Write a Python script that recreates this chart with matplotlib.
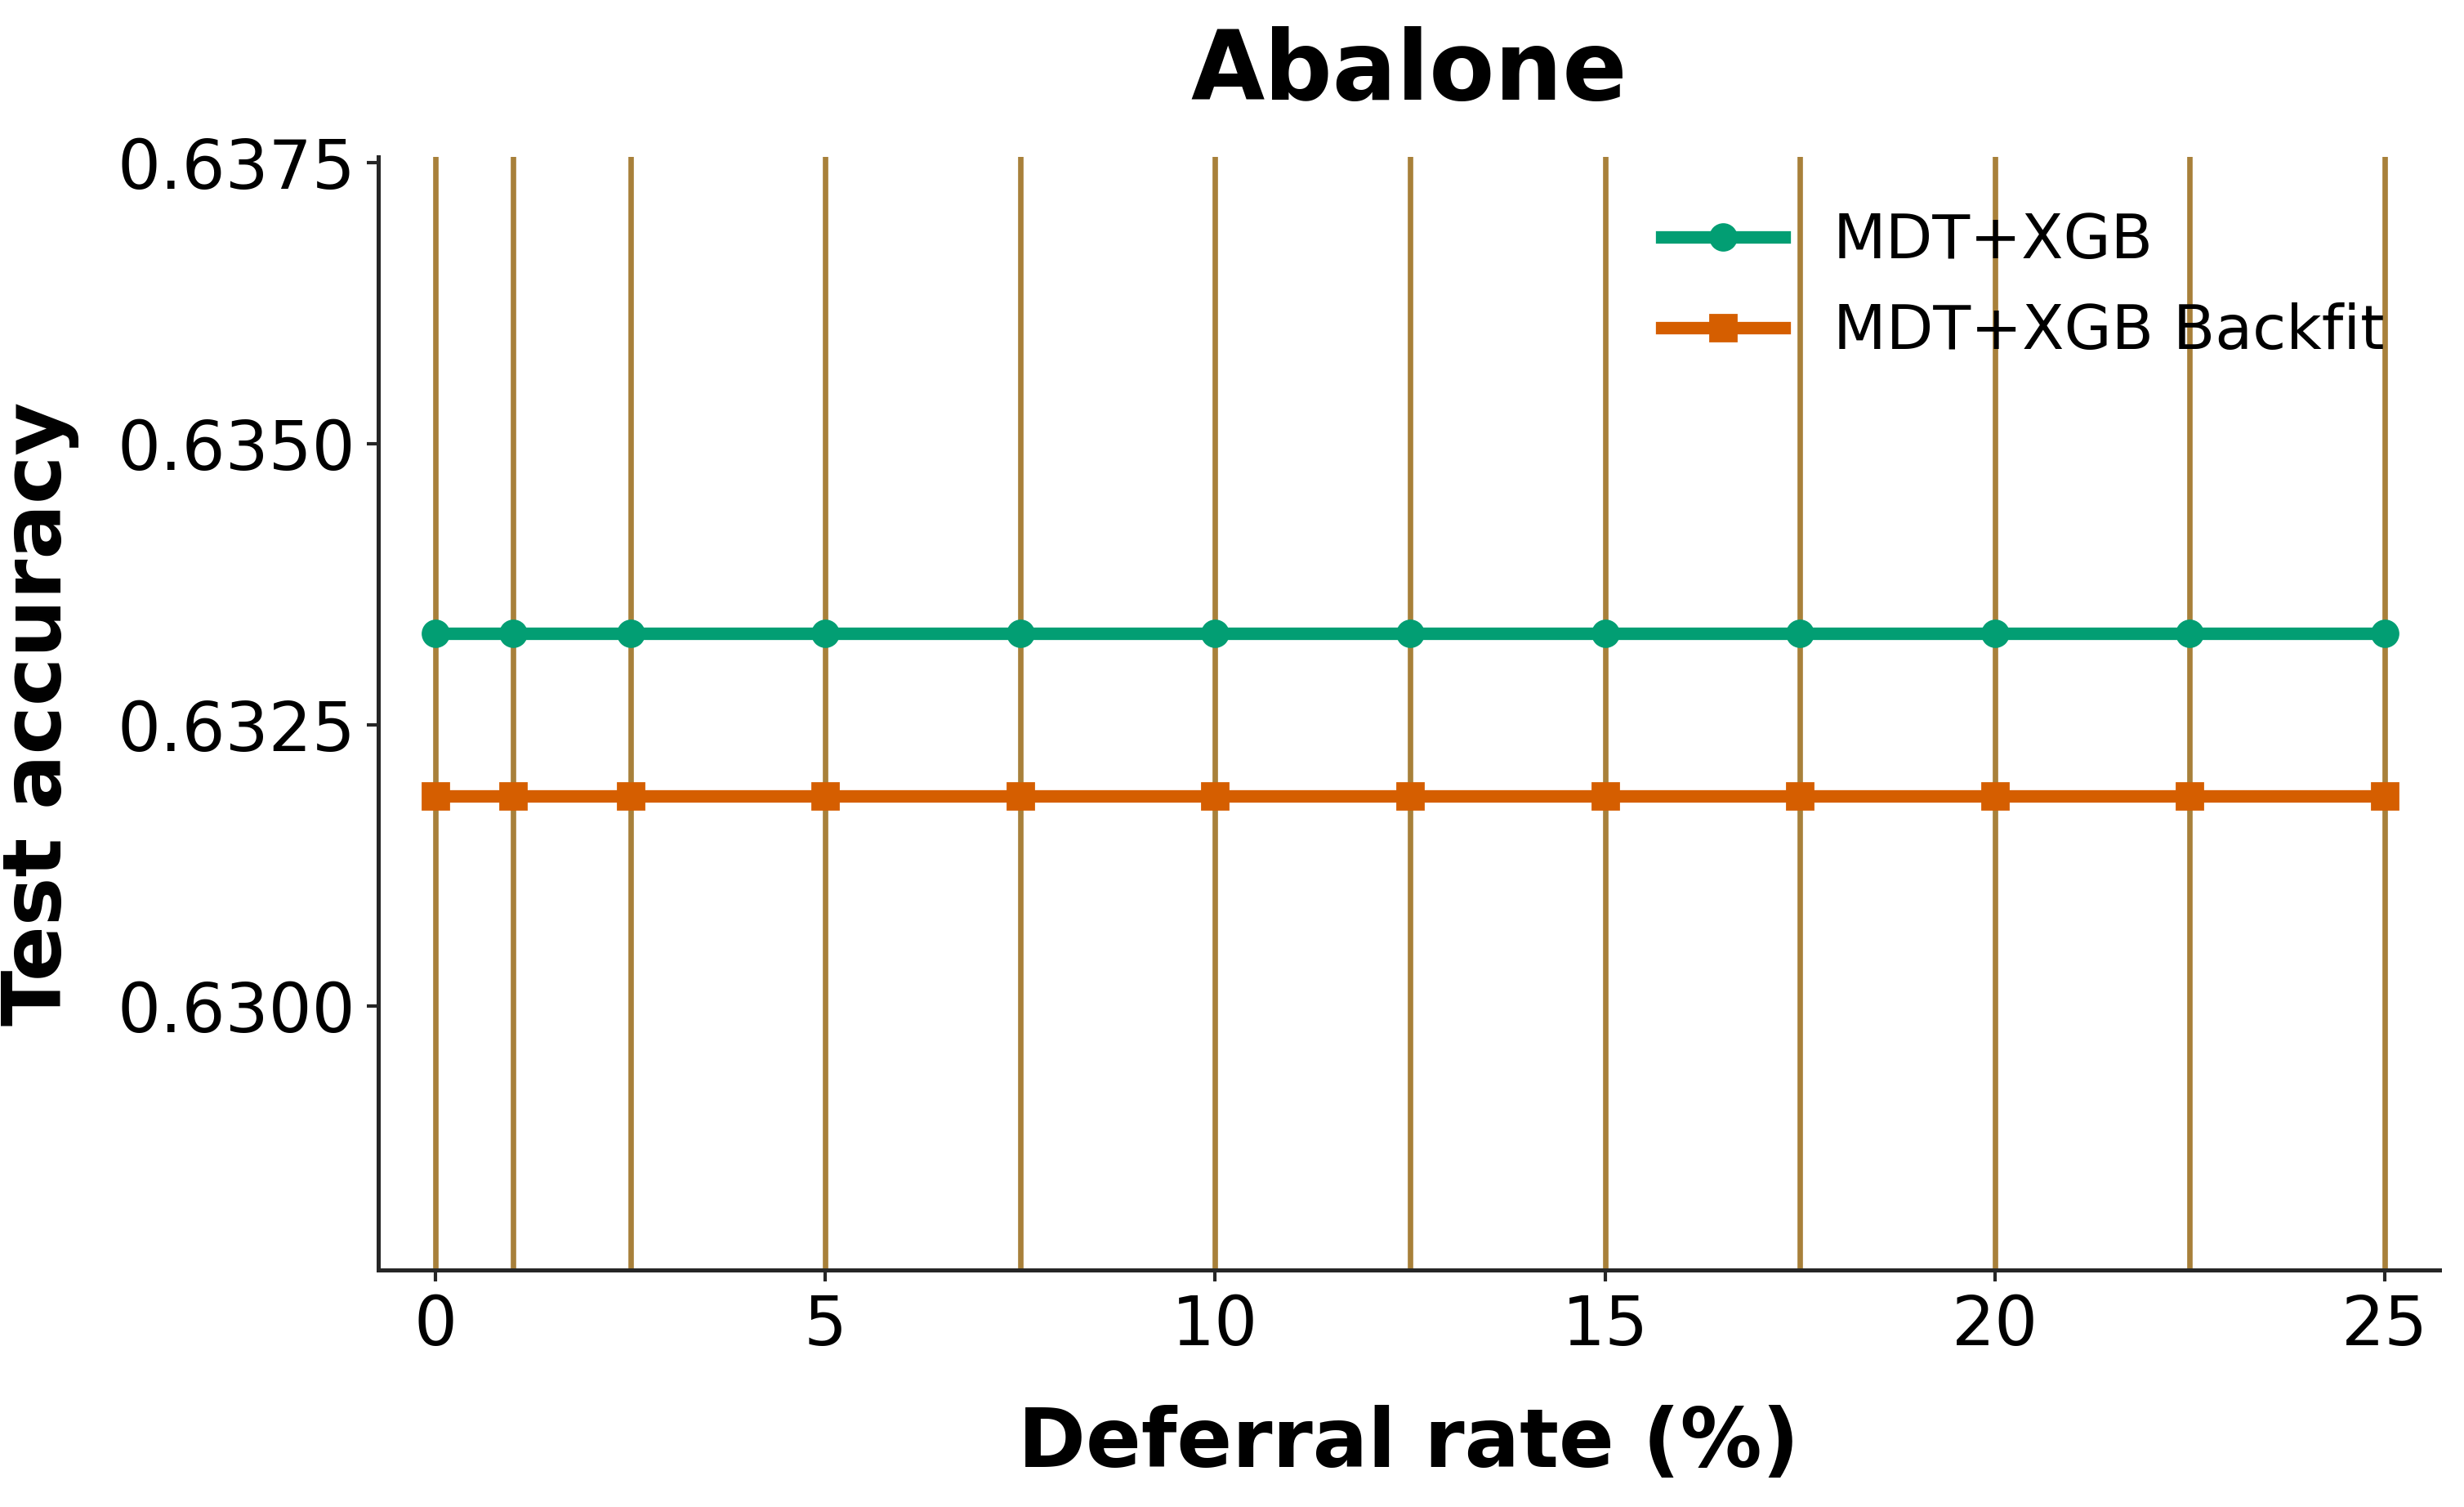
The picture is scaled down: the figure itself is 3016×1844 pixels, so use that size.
import numpy as np
import matplotlib
matplotlib.use("Agg")
import matplotlib.pyplot as plt

# deferral rates (%)
rates = [0, 1, 2.5, 5, 7.5, 10, 12.5, 15, 17.5, 20, 22.5, 25]
acc_mdt_xgb = [0.63331] * len(rates)
acc_backfit = [0.63187] * len(rates)
yticks = [0.6300, 0.6325, 0.6350, 0.6375]

green = "#029e73"
orange = "#d55e00"
brown = "#a8803a"

fig = plt.figure(figsize=(15.08, 9.22), dpi=200)
ax = fig.add_axes([0.1536, 0.157, 0.8364, 0.739])

# vertical marks at each deferral rate (span past the visible range)
ax.vlines(rates, 0.6, 0.7, colors=brown, linewidth=2.4, zorder=1)

ax.plot(rates, acc_mdt_xgb, color=green, marker="o", markersize=11.5,
        linewidth=5.5, label="MDT+XGB", zorder=3)
ax.plot(rates, acc_backfit, color=orange, marker="s", markersize=11.5,
        linewidth=5.5, label="MDT+XGB Backfit", zorder=3)

ax.set_xlim(-0.73, 25.7)
ax.set_ylim(0.62765, 0.63755)
ax.set_xticks([0, 5, 10, 15, 20, 25])
ax.set_yticks(yticks)
ax.set_yticklabels(["%.4f" % v for v in yticks])
ax.tick_params(labelsize=30, width=1.5, length=5, pad=5, color="#262626")

for s in ["top", "right"]:
    ax.spines[s].set_visible(False)
for s in ["left", "bottom"]:
    ax.spines[s].set_color("#262626")
    ax.spines[s].set_linewidth(1.8)

ax.set_title("Abalone", fontsize=42, fontweight="bold", pad=25)
ax.set_xlabel("Deferral rate (%)", fontsize=36, fontweight="bold", labelpad=20)
ax.set_ylabel("Test accuracy", fontsize=36, fontweight="bold", labelpad=17)

ax.legend(loc="upper right", fontsize=27, frameon=False,
          bbox_to_anchor=(1.0, 1.0))

fig.savefig("out.png", dpi=200)
plt.close(fig)
